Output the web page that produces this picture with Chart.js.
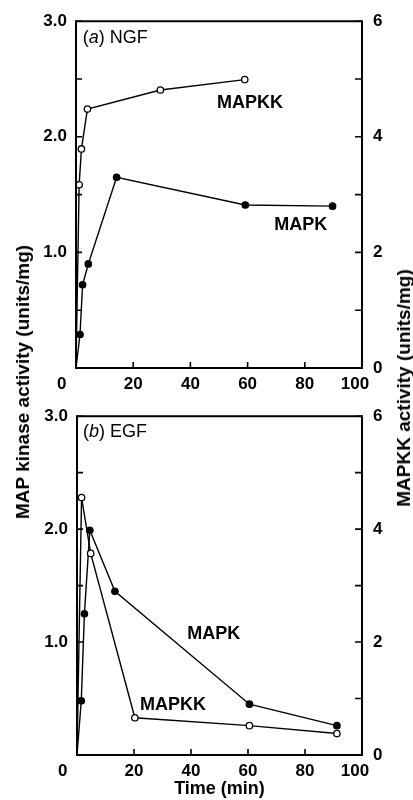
<!DOCTYPE html>
<html>
<head>
<meta charset="utf-8">
<script src="https://cdn.jsdelivr.net/npm/chart.js@4.4.1/dist/chart.umd.min.js"></script>
<style>
  body { margin: 0; background: #fff; width: 413px; height: 800px; overflow: hidden; position: relative; font-family: "Liberation Sans", Arial, sans-serif; }
  canvas { position: absolute; left: 0; }
  #top { top: 0; }
  #bottom { top: 395px; }
  .ytitle { position: absolute; white-space: nowrap; font-weight: bold; font-size: 19px; color: #000; transform: translate(-50%, -50%) rotate(-90deg); }
</style>
</head>
<body>
<canvas id="top" width="413" height="395"></canvas>
<canvas id="bottom" width="413" height="405"></canvas>
<div class="ytitle" style="left:23px; top:382px;">MAP kinase activity (units/mg)</div>
<div class="ytitle" style="left:404px; top:388px;">MAPKK activity (units/mg)</div>
<script>
// (a) NGF
const ngfMapkkTime = [0, 1.1, 1.9, 4, 29.5, 59];
const ngfMapkk = [0, 3.17, 3.79, 4.48, 4.81, 4.99];
const ngfMapkTime = [0, 1.4, 2.3, 4.3, 14.2, 59.2, 89.7];
const ngfMapk = [0, 0.29, 0.72, 0.90, 1.65, 1.41, 1.40];

// (b) EGF
const egfMapkkTime = [0, 1.6, 4.8, 20.3, 60.5, 91.2];
const egfMapkk = [0, 4.56, 3.57, 0.66, 0.52, 0.38];
const egfMapkTime = [0, 1.5, 2.6, 4.5, 13.3, 60.5, 91.2];
const egfMapk = [0, 0.48, 1.25, 1.99, 1.45, 0.45, 0.26];

// ticks
const timeTicks = [0, 20, 40, 60, 80, 100];
const timeLabels = ['0', '20', '40', '60', '80', '100'];
const mapkTicks = [0, 0.5, 1, 1.5, 2, 2.5, 3];
const mapkLabels = ['', '', '1.0', '', '2.0', '', '3.0'];
const mapkkTicks = [0, 1, 2, 3, 4, 5, 6];
const mapkkLabels = ['0', '', '2', '', '4', '', '6'];

const FONT = '"Liberation Sans", Arial, sans-serif';
const tickFont = { family: FONT, size: 17, weight: 'bold' };

// box round the plot, inward ticks, and text labels
const frame = {
  id: 'frame',
  afterDraw(chart, args, opts) {
    const { ctx, chartArea: a, scales } = chart;
    ctx.save();
    ctx.strokeStyle = '#000';
    ctx.lineWidth = 2;
    ctx.beginPath();
    ctx.rect(a.left, a.top, a.right - a.left, a.bottom - a.top);
    ctx.stroke();
    ctx.lineWidth = 1.6;
    ctx.beginPath();
    scales.x.ticks.forEach(t => {
      const p = scales.x.getPixelForValue(t.value);
      ctx.moveTo(p, a.bottom); ctx.lineTo(p, a.bottom - 6);
    });
    scales.yL.ticks.forEach(t => {
      const p = scales.yL.getPixelForValue(t.value);
      ctx.moveTo(a.left, p); ctx.lineTo(a.left + 6, p);
    });
    scales.yR.ticks.forEach(t => {
      const p = scales.yR.getPixelForValue(t.value);
      ctx.moveTo(a.right, p); ctx.lineTo(a.right - 7, p);
    });
    ctx.stroke();

    ctx.fillStyle = '#000';
    ctx.textBaseline = 'middle';
    ctx.textAlign = 'left';
    (opts.labels || []).forEach(l => {
      const parts = l.parts;
      let w = 0;
      parts.forEach(p => {
        ctx.font = (p.italic ? 'italic ' : '') + (l.bold ? 'bold ' : '') + l.size + 'px ' + FONT;
        p.w = ctx.measureText(p.t).width;
        w += p.w;
      });
      let x = scales.x.getPixelForValue(l.x);
      const y = scales.yL.getPixelForValue(l.y);
      if (l.align === 'center') x -= w / 2;
      parts.forEach(p => {
        ctx.font = (p.italic ? 'italic ' : '') + (l.bold ? 'bold ' : '') + l.size + 'px ' + FONT;
        ctx.fillText(p.t, x, y);
        x += p.w;
      });
    });
    ctx.restore();
  }
};

function pts(xs, ys) {
  return xs.map((x, i) => ({ x: x, y: ys[i] }));
}

function series(label, xs, ys, axis, open) {
  return {
    label: label,
    data: pts(xs, ys),
    yAxisID: axis,
    borderColor: '#000',
    borderWidth: 1.4,
    backgroundColor: open ? '#fff' : '#000',
    pointBorderColor: '#000',
    pointBorderWidth: 1.3,
    pointRadius: ctx => ctx.dataIndex === 0 ? 0 : 3.2,
    tension: 0,
    clip: false
  };
}

function makeScales(leftW, bottomH, withTitle) {
  return {
    x: {
      type: 'linear', min: 0, max: 100,
      afterBuildTicks: s => { s.ticks = timeTicks.map(v => ({ value: v })); },
      ticks: {
        font: tickFont, color: '#000', padding: 6, maxRotation: 0, autoSkip: false,
        callback: (v, i) => i === 0 ? timeLabels[i] + '      ' : i === timeTicks.length - 1 ? timeLabels[i] + '   ' : timeLabels[i]
      },
      grid: { display: false, drawTicks: false },
      border: { display: false },
      title: {
        display: withTitle, text: 'Time (min)', color: '#000',
        font: { family: FONT, size: 18, weight: 'bold' }, padding: { top: 0, bottom: 0 }
      },
      afterFit: s => { s.height = bottomH; }
    },
    yL: {
      position: 'left', min: 0, max: 3,
      afterBuildTicks: s => { s.ticks = mapkTicks.map(v => ({ value: v })); },
      ticks: { font: tickFont, color: '#000', padding: 9, autoSkip: false, callback: (v, i) => mapkLabels[i] },
      grid: { display: false, drawTicks: false },
      border: { display: false },
      afterFit: s => { s.width = leftW; }
    },
    yR: {
      position: 'right', min: 0, max: 6,
      afterBuildTicks: s => { s.ticks = mapkkTicks.map(v => ({ value: v })); },
      ticks: { font: tickFont, color: '#000', padding: 11, autoSkip: false, callback: (v, i) => mapkkLabels[i] },
      grid: { display: false, drawTicks: false },
      border: { display: false },
      afterFit: s => { s.width = 51; }
    }
  };
}

new Chart(document.getElementById('top'), {
  type: 'line',
  data: {
    datasets: [
      series('MAPKK', ngfMapkkTime, ngfMapkk, 'yR', true),
      series('MAPK', ngfMapkTime, ngfMapk, 'yL', false)
    ]
  },
  options: {
    responsive: false,
    animation: false,
    layout: { padding: { top: 21, left: 0, right: 0, bottom: 0 } },
    scales: makeScales(76, 27, false),
    plugins: {
      legend: { display: false },
      tooltip: { enabled: false },
      frame: {
        labels: [
          { x: 2.4, y: 2.855, size: 18, align: 'left', parts: [{ t: '(' }, { t: 'a', italic: true }, { t: ') NGF' }] },
          { x: 60.8, y: 2.29, size: 18, bold: true, align: 'center', parts: [{ t: 'MAPKK' }] },
          { x: 78.6, y: 1.236, size: 18, bold: true, align: 'center', parts: [{ t: 'MAPK' }] }
        ]
      }
    }
  },
  plugins: [frame]
});

new Chart(document.getElementById('bottom'), {
  type: 'line',
  data: {
    datasets: [
      series('MAPKK', egfMapkkTime, egfMapkk, 'yR', true),
      series('MAPK', egfMapkTime, egfMapk, 'yL', false)
    ]
  },
  options: {
    responsive: false,
    animation: false,
    layout: { padding: { top: 17, left: 0, right: 0, bottom: 0 } },
    scales: makeScales(77, 45, true),
    plugins: {
      legend: { display: false },
      tooltip: { enabled: false },
      frame: {
        labels: [
          { x: 2.1, y: 2.86, size: 18, align: 'left', parts: [{ t: '(' }, { t: 'b', italic: true }, { t: ') EGF' }] },
          { x: 48, y: 1.067, size: 18, bold: true, align: 'center', parts: [{ t: 'MAPK' }] },
          { x: 33.7, y: 0.44, size: 18, bold: true, align: 'center', parts: [{ t: 'MAPKK' }] }
        ]
      }
    }
  },
  plugins: [frame]
});
</script>
</body>
</html>
